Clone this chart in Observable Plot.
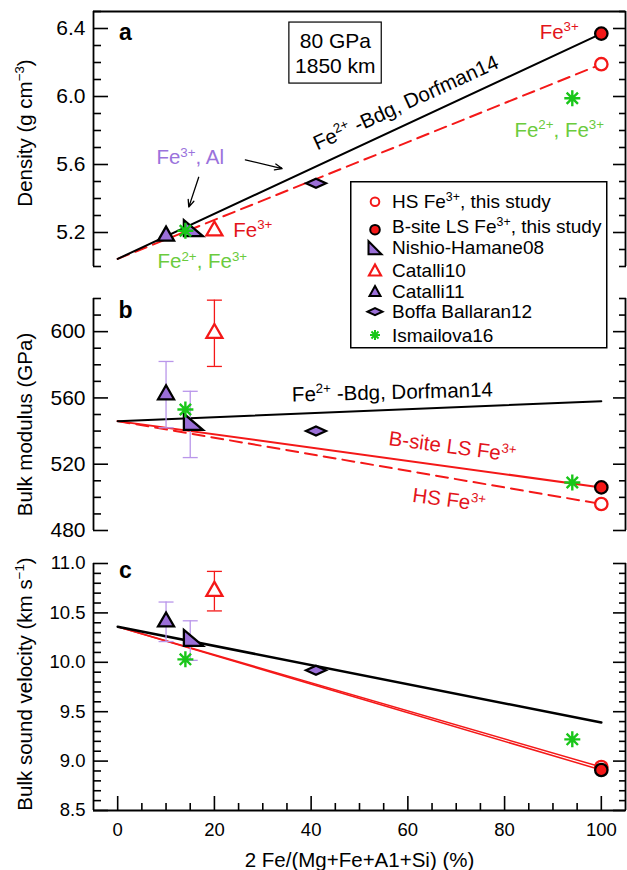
<!DOCTYPE html>
<html><head><meta charset="utf-8">
<script src="https://cdn.jsdelivr.net/npm/d3@7"></script>
<script src="https://cdn.jsdelivr.net/npm/@observablehq/plot@0.6"></script>
<style>
body{margin:0;background:#fff;}
#wrap{position:relative;width:627px;height:870px;font-family:"Liberation Sans",Arial,Helvetica,sans-serif;}
#wrap > svg{display:block;}
</style></head><body><div id="wrap"></div>
<script>
// ---------------- data ----------------
const xTicksMajor = [0, 20, 40, 60, 80, 100];
const xTicksMinor = [5, 10, 15, 25, 30, 35, 45, 50, 55, 65, 70, 75, 85, 90, 95];
const densityTicksMajor = [5.2, 5.6, 6.0, 6.4];
const densityTicksMinor = [5.0, 5.1, 5.3, 5.4, 5.5, 5.7, 5.8, 5.9, 6.1, 6.2, 6.3, 6.5];
const modulusTicksMajor = [480, 520, 560, 600];
const modulusTicksMinor = [490, 500, 510, 530, 540, 550, 570, 580, 590, 610, 620];
const velocityTicksMajor = [8.5, 9.0, 9.5, 10.0, 10.5, 11.0];
const velocityTicksMinor = [8.6, 8.7, 8.8, 8.9, 9.1, 9.2, 9.3, 9.4, 9.6, 9.7, 9.8, 9.9, 10.1, 10.2, 10.3, 10.4, 10.6, 10.7, 10.8, 10.9];

const xLabel = "2 Fe/(Mg+Fe+A1+Si) (%)";
const densityLabel = "Density (g cm^{\u22123})";
const modulusLabel = "Bulk modulus (GPa)";
const velocityLabel = "Bulk sound velocity (km s^{\u22121})";

// studies (x = 2Fe/(Mg+Fe+Al+Si) %)
const hsX = [100], hsDensity = [6.19], hsModulus = [496], hsVelocity = [8.94];
const lsX = [100], lsDensity = [6.37], lsModulus = [506], lsVelocity = [8.91];
const nishioX = [15], nishioDensity = [5.21], nishioModulus = [544], nishioModulusErr = [20], nishioVelocity = [10.22], nishioVelocityErr = [0.2];
const catalli10X = [20], catalli10Density = [5.21], catalli10Modulus = [599], catalli10ModulusErr = [20], catalli10Velocity = [10.72], catalli10VelocityErr = [0.2];
const catalli11X = [10], catalli11Density = [5.18], catalli11Modulus = [562], catalli11ModulusErr = [20], catalli11Velocity = [10.41], catalli11VelocityErr = [0.2];
const boffaX = [41], boffaDensity = [5.49], boffaModulus = [540], boffaVelocity = [9.92];
const ismailovaX = [14, 94], ismailovaDensity = [5.21, 5.99], ismailovaModulus = [553, 509], ismailovaVelocity = [10.03, 9.22];

// trend lines
const trendX = [0, 100];
const dorfmanDensity = [5.045, 6.37], dorfmanModulus = [546, 558], dorfmanVelocity = [10.36, 9.39];
const lsTrendModulus = [546, 506], lsTrendVelocity = [10.36, 8.91];
const hsTrendDensity = [5.045, 6.19], hsTrendModulus = [546, 496], hsTrendVelocity = [10.36, 8.94];

const legendLabels = ["HS Fe^{3+}, this study", "B-site LS Fe^{3+}, this study", "Nishio-Hamane08", "Catalli10", "Catalli11", "Boffa Ballaran12", "Ismailova16"];

// annotations (data coordinates)
const infoBox = [{x1: 35.5, x2: 54.6, y1: 6.076, y2: 6.435}];
const infoText = [{x: 45, y: 6.256, text: "80 GPa\n1850 km"}];
const arrowsA = [{x1: 26.4, y1: 5.627, x2: 34.0, y2: 5.576}, {x1: 16.75, y1: 5.525, x2: 14.7, y2: 5.349}];
const labelsA = [
  {x: 59.6, y: 5.962, text: "Fe^{2+} -Bdg, Dorfman14", color: "black", rotate: -24.5, anchor: "middle"},
  {x: 15.0, y: 5.639, text: "Fe^{3+}, Al", color: "purple", rotate: 0, anchor: "middle"},
  {x: 23.9, y: 5.212, text: "Fe^{3+}", color: "red", rotate: 0, anchor: "start"},
  {x: 17.5, y: 5.028, text: "Fe^{2+}, Fe^{3+}", color: "green", rotate: 0, anchor: "middle"},
  {x: 91.3, y: 6.379, text: "Fe^{3+}", color: "red", rotate: 0, anchor: "middle"},
  {x: 91.3, y: 5.80, text: "Fe^{2+}, Fe^{3+}", color: "green", rotate: 0, anchor: "middle"}
];
const labelsB = [
  {x: 56.8, y: 563.3, text: "Fe^{2+} -Bdg, Dorfman14", color: "black", rotate: -1.4, italic: false},
  {x: 69.2, y: 530.4, text: "B-site LS Fe^{3+}", color: "red", rotate: 7.6, italic: true},
  {x: 68.5, y: 498.3, text: "HS Fe^{3+}", color: "red", rotate: 7.6, italic: true}
];

// ---------------- styles ----------------
const FONT = '"Liberation Sans", Arial, Helvetica, sans-serif';
const RED = "#f41818", RED_TEXT = "#e3141b", PURPLE = "#9b6fd8", PURPLE_TEXT = "#9a73dc",
      ERR_PURPLE = "#b996ea", GREEN = "#19c619", GREEN_TEXT = "#6bcb3d";
const colorOf = {black: "black", red: RED_TEXT, purple: PURPLE_TEXT, green: GREEN_TEXT};

const triUp = (w, h) => ({draw(c) { c.moveTo(0, -2 * h / 3); c.lineTo(w / 2, h / 3); c.lineTo(-w / 2, h / 3); c.closePath(); }});
const triRight = (w, h) => ({draw(c) { c.moveTo(-w / 3, -2 * h / 3); c.lineTo(-w / 3, h / 3); c.lineTo(2 * w / 3, h / 3); c.closePath(); }});
const diamond = (w, h) => ({draw(c) { c.moveTo(-w / 2, 0); c.lineTo(0, -h / 2); c.lineTo(w / 2, 0); c.lineTo(0, h / 2); c.closePath(); }});
const ring = r => ({draw(c) { c.moveTo(r, 0); c.arc(0, 0, r, 0, 2 * Math.PI); c.closePath(); }});
const star = a => ({draw(c) { const d = a * Math.SQRT1_2; c.moveTo(-a, 0); c.lineTo(a, 0); c.moveTo(0, -a); c.lineTo(0, a); c.moveTo(-d, -d); c.lineTo(d, d); c.moveTo(-d, d); c.lineTo(d, -d); }});
const hbar = w => ({draw(c) { c.moveTo(-w / 2, 0); c.lineTo(w / 2, 0); }});

const pts = (xs, ys, es = []) => xs.map((x, i) => ({x, y: ys[i], e: es[i]}));

const S = {
  catalli11: {symbol: triUp(16, 14), fill: PURPLE, stroke: "black", strokeWidth: 2.3},
  nishio: {symbol: triRight(19, 16), fill: PURPLE, stroke: "black", strokeWidth: 2.3},
  catalli10: {symbol: triUp(16, 14), fill: "white", stroke: RED, strokeWidth: 2.3},
  boffa: {symbol: diamond(20, 9), fill: PURPLE, stroke: "black", strokeWidth: 2.2},
  hs: {symbol: ring(6.2), fill: "white", stroke: RED, strokeWidth: 2.3},
  ls: {symbol: ring(6.2), fill: RED, stroke: "black", strokeWidth: 2.3},
  ismailova: {symbol: star(8), fill: "none", stroke: GREEN, strokeWidth: 2.4}
};
const dot = (data, s) => Plot.dot(data, {x: "x", y: "y", r: 1, ...s});
const errBars = (data, color) => [
  Plot.ruleX(data, {x: "x", y1: d => d.y - d.e, y2: d => d.y + d.e, stroke: color, strokeWidth: 1.3}),
  Plot.dot(data, {x: "x", y: d => d.y + d.e, r: 1, symbol: hbar(15), stroke: color, strokeWidth: 1.3}),
  Plot.dot(data, {x: "x", y: d => d.y - d.e, r: 1, symbol: hbar(15), stroke: color, strokeWidth: 1.3})
];

function applySup(root) {
  root.querySelectorAll("text").forEach(t => {
    if (t.children.length) return;
    const s = t.textContent;
    if (!s.includes("^{")) return;
    t.textContent = "";
    const add = (txt, dy, size) => {
      const sp = document.createElementNS("http://www.w3.org/2000/svg", "tspan");
      if (dy) sp.setAttribute("dy", dy);
      if (size) sp.setAttribute("font-size", size);
      sp.textContent = txt; t.appendChild(sp);
    };
    const re = /\^\{([^}]*)\}/g; let last = 0, m, restore = false;
    while ((m = re.exec(s))) {
      if (m.index > last) { add(s.slice(last, m.index), restore ? "0.38em" : null); restore = false; }
      add(m[1], restore ? null : "-0.585em", "65%"); restore = true;
      last = re.lastIndex;
    }
    if (last < s.length) add(s.slice(last), restore ? "0.38em" : null);
  });
}

function panel(cfg) {
  const {height, mt, mb, yDomain, yMajor, yMinor, yFmt, tickFont, yLabel, yLabelDy, letter, letterDy, marks, top = false, xAxis = false} = cfg;
  const m = [
    Plot.ruleX([-5, 105], {stroke: "black", strokeWidth: 1.8}),
    ...(top ? [Plot.ruleY([yDomain[1]], {stroke: "black", strokeWidth: 1.8})] : []),
    ...(xAxis ? [
      Plot.ruleY([yDomain[0]], {stroke: "black", strokeWidth: 1.8}),
      Plot.axisX(xTicksMajor, {anchor: "bottom", tickSize: -14, tickPadding: 26, fontSize: 18.5, strokeWidth: 1.6, label: null}),
      Plot.axisX(xTicksMinor, {anchor: "bottom", tickSize: -7, tickFormat: () => "", strokeWidth: 1.6, label: null}),
      Plot.text([xLabel], {frameAnchor: "bottom", dy: 49.5, text: d => d, fontSize: 20.5, textAnchor: "middle", lineAnchor: "middle"})
    ] : []),
    Plot.axisY(yMajor, {anchor: "left", tickSize: -15, tickPadding: 23, tickFormat: yFmt, fontSize: tickFont, strokeWidth: 1.6, label: null}),
    Plot.axisY(yMinor, {anchor: "left", tickSize: -8, tickFormat: () => "", strokeWidth: 1.6, label: null}),
    Plot.axisY(yMajor, {anchor: "right", tickSize: -13, tickFormat: () => "", strokeWidth: 1.6, label: null}),
    Plot.axisY(yMinor, {anchor: "right", tickSize: -7, tickFormat: () => "", strokeWidth: 1.6, label: null}),
    Plot.text([yLabel], {frameAnchor: "left", dx: -68, dy: yLabelDy, rotate: -90, text: d => d, fontSize: 20.5, textAnchor: "middle", lineAnchor: "middle"}),
    Plot.text([letter], {frameAnchor: "top-left", dx: 32, dy: letterDy, text: d => d, fontSize: 23, fontWeight: "bold", textAnchor: "middle", lineAnchor: "middle"}),
    ...marks
  ];
  const svg = Plot.plot({
    width: 627, height, marginTop: mt, marginBottom: mb, marginLeft: 93, marginRight: 2,
    x: {domain: [-5, 105], axis: xAxis ? undefined : null},
    y: {domain: yDomain, label: null},
    style: {fontFamily: FONT, fontSize: "20px", background: "white", color: "black", overflow: "visible"},
    marks: m
  });
  applySup(svg);
  return svg;
}

const wrap = document.getElementById("wrap");

// ---- panel a: density ----
wrap.appendChild(panel({
  height: 280, mt: 11, mb: 14, yDomain: [5.0, 6.5], yMajor: densityTicksMajor, yMinor: densityTicksMinor,
  yFmt: d => d.toFixed(1), tickFont: 21, yLabel: densityLabel, yLabelDy: -6, letter: "a", letterDy: 21.6, top: true,
  marks: [
    Plot.line(pts(trendX, hsTrendDensity), {x: "x", y: "y", stroke: RED, strokeWidth: 2, strokeDasharray: "12,7"}),
    Plot.line(pts(trendX, dorfmanDensity), {x: "x", y: "y", stroke: "black", strokeWidth: 2}),
    Plot.rect(infoBox, {x1: "x1", x2: "x2", y1: "y1", y2: "y2", fill: "white", stroke: "black", strokeWidth: 1.2}),
    Plot.text(infoText, {x: "x", y: "y", text: "text", fontSize: 21, lineHeight: 1.19}),
    Plot.arrow(arrowsA, {x1: "x1", y1: "y1", x2: "x2", y2: "y2", stroke: "black", strokeWidth: 1.3, headLength: 9, headAngle: 45}),
    dot(pts(catalli11X, catalli11Density), S.catalli11),
    dot(pts(nishioX, nishioDensity), S.nishio),
    dot(pts(catalli10X, catalli10Density), S.catalli10),
    dot(pts(boffaX, boffaDensity), S.boffa),
    dot(pts(hsX, hsDensity), S.hs),
    dot(pts(lsX, lsDensity), S.ls),
    dot(pts(ismailovaX, ismailovaDensity), S.ismailova),
    Plot.text(labelsA.filter(d => d.anchor === "middle"), {x: "x", y: "y", text: "text", fill: d => colorOf[d.color], rotate: "rotate", textAnchor: "middle", fontSize: 20.5, lineAnchor: "middle"}),
    Plot.text(labelsA.filter(d => d.anchor === "start"), {x: "x", y: "y", text: "text", fill: d => colorOf[d.color], rotate: "rotate", textAnchor: "start", fontSize: 20.5, lineAnchor: "middle"})
  ]
}));

// ---- panel b: bulk modulus ----
wrap.appendChild(panel({
  height: 255, mt: 18, mb: 5, yDomain: [480, 620], yMajor: modulusTicksMajor, yMinor: modulusTicksMinor,
  yFmt: d => String(d), tickFont: 21, yLabel: modulusLabel, yLabelDy: 10, letter: "b", letterDy: 12.6,
  marks: [
    Plot.line(pts(trendX, hsTrendModulus), {x: "x", y: "y", stroke: RED, strokeWidth: 2, strokeDasharray: "12,7"}),
    Plot.line(pts(trendX, lsTrendModulus), {x: "x", y: "y", stroke: RED, strokeWidth: 2}),
    Plot.line(pts(trendX, dorfmanModulus), {x: "x", y: "y", stroke: "black", strokeWidth: 2}),
    ...errBars(pts(catalli11X, catalli11Modulus, catalli11ModulusErr), ERR_PURPLE),
    ...errBars(pts(nishioX, nishioModulus, nishioModulusErr), ERR_PURPLE),
    ...errBars(pts(catalli10X, catalli10Modulus, catalli10ModulusErr), RED),
    dot(pts(catalli11X, catalli11Modulus), S.catalli11),
    dot(pts(nishioX, nishioModulus), S.nishio),
    dot(pts(catalli10X, catalli10Modulus), S.catalli10),
    dot(pts(boffaX, boffaModulus), S.boffa),
    dot(pts(hsX, hsModulus), S.hs),
    dot(pts(lsX, lsModulus), S.ls),
    dot(pts(ismailovaX, ismailovaModulus), S.ismailova),
    Plot.text(labelsB, {x: "x", y: "y", text: "text", fill: d => colorOf[d.color], rotate: "rotate", fontStyle: d => d.italic ? "italic" : "normal", fontSize: 20.5, textAnchor: "middle", lineAnchor: "middle"})
  ]
}));

// ---- panel c: bulk sound velocity ----
wrap.appendChild(panel({
  height: 335, mt: 28, mb: 60, yDomain: [8.5, 11.0], yMajor: velocityTicksMajor, yMinor: velocityTicksMinor,
  yFmt: d => d.toFixed(1), tickFont: 18.5, yLabel: velocityLabel, yLabelDy: -3, letter: "c", letterDy: 7.6, xAxis: true,
  marks: [
    Plot.line(pts(trendX, hsTrendVelocity), {x: "x", y: "y", stroke: RED, strokeWidth: 1.5}),
    Plot.line(pts(trendX, lsTrendVelocity), {x: "x", y: "y", stroke: RED, strokeWidth: 1.5}),
    Plot.line(pts(trendX, dorfmanVelocity), {x: "x", y: "y", stroke: "black", strokeWidth: 2.5}),
    ...errBars(pts(catalli11X, catalli11Velocity, catalli11VelocityErr), ERR_PURPLE),
    ...errBars(pts(nishioX, nishioVelocity, nishioVelocityErr), ERR_PURPLE),
    ...errBars(pts(catalli10X, catalli10Velocity, catalli10VelocityErr), RED),
    dot(pts(catalli11X, catalli11Velocity), S.catalli11),
    dot(pts(nishioX, nishioVelocity), S.nishio),
    dot(pts(catalli10X, catalli10Velocity), S.catalli10),
    dot(pts(boffaX, boffaVelocity), S.boffa),
    dot(pts(hsX, hsVelocity), S.hs),
    dot(pts(lsX, lsVelocity), S.ls),
    dot(pts(ismailovaX, ismailovaVelocity), S.ismailova)
  ]
}));

// ---- legend (overlay spanning panels a and b) ----
const legendSyms = [
  {sym: ring(4.3), fill: "white", stroke: RED, sw: 2, dx: 0, dy: 0},
  {sym: ring(4.8), fill: RED, stroke: "black", sw: 2, dx: 0, dy: 3},
  {sym: triRight(13, 13), fill: PURPLE, stroke: "black", sw: 2, dx: -13 / 6, dy: 13 / 6},
  {sym: triUp(12, 11), fill: "white", stroke: RED, sw: 2.2, dx: 0, dy: 11 / 6},
  {sym: triUp(11, 10), fill: PURPLE, stroke: "black", sw: 2, dx: 0, dy: 10 / 6},
  {sym: diamond(15, 7), fill: PURPLE, stroke: "black", sw: 2, dx: 0, dy: 0},
  {sym: star(5), fill: "none", stroke: GREEN, sw: 2, dx: 0, dy: 0}
];
const legendRowY = [20.7, 45.7, 66.7, 89, 110, 130.7, 154];
const lg = d3.create("svg").attr("width", 258).attr("height", 168)
  .style("position", "absolute").style("left", "350px").style("top", "181px")
  .style("font-family", FONT);
lg.append("rect").attr("x", 0.75).attr("y", 0.75).attr("width", 256).attr("height", 166)
  .attr("fill", "white").attr("stroke", "black").attr("stroke-width", 1.5);
legendLabels.forEach((label, i) => {
  const s = legendSyms[i];
  const p = d3.path(); s.sym.draw(p);
  lg.append("path").attr("d", p.toString())
    .attr("transform", `translate(${25 + s.dx},${legendRowY[i] + s.dy})`)
    .attr("fill", s.fill).attr("stroke", s.stroke).attr("stroke-width", s.sw);
  lg.append("text").attr("x", 42).attr("y", legendRowY[i]).attr("dy", "0.35em")
    .attr("font-size", 19).attr("fill", "black").text(label);
});
applySup(lg.node());
wrap.appendChild(lg.node());
</script></body></html>
